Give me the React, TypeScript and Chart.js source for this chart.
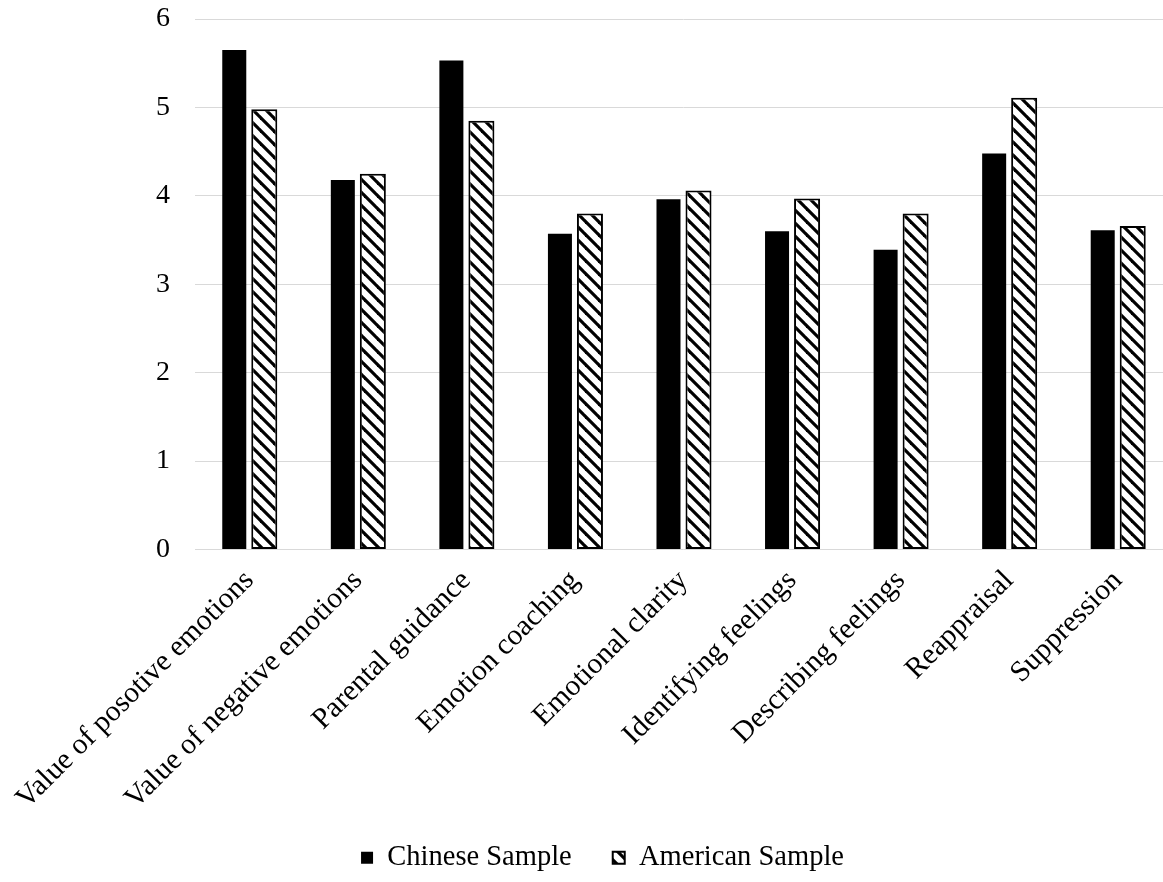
import React, { useEffect, useRef } from 'react';
import { Chart, registerables } from 'chart.js';

Chart.register(...registerables);

const categories = [
  'Value of posotive emotions',
  'Value of negative emotions',
  'Parental guidance',
  'Emotion coaching',
  'Emotional clarity',
  'Identifying feelings',
  'Describing feelings',
  'Reappraisal',
  'Suppression',
];

const chineseSample = [5.65, 4.18, 5.53, 3.57, 3.96, 3.6, 3.39, 4.48, 3.61];
const americanSample = [4.98, 4.25, 4.85, 3.8, 4.06, 3.97, 3.8, 5.11, 3.66];

const yTicks = [0, 1, 2, 3, 4, 5, 6];

const FAMILY = "'Liberation Serif', 'Times New Roman', serif";

function makeHatch(): CanvasPattern | string {
  const s = 13;
  const c = document.createElement('canvas');
  c.width = s;
  c.height = s;
  const g = c.getContext('2d');
  if (!g) return '#888';
  g.fillStyle = '#ffffff';
  g.fillRect(0, 0, s, s);
  g.strokeStyle = '#000000';
  g.lineWidth = 3.2;
  for (const k of [-1, 0, 1]) {
    g.beginPath();
    g.moveTo(-3, -3 + k * s);
    g.lineTo(s + 3, s + 3 + k * s);
    g.stroke();
  }
  return g.createPattern(c, 'repeat') || '#888';
}

export default function App() {
  const ref = useRef<HTMLCanvasElement>(null);

  useEffect(() => {
    const canvas = ref.current;
    if (!canvas) return;
    const hatch = makeHatch();
    const chart = new Chart(canvas, {
      type: 'bar',
      data: {
        labels: categories,
        datasets: [
          {
            label: 'Chinese Sample',
            data: chineseSample,
            backgroundColor: '#000000',
            borderWidth: 0,
            barPercentage: 0.8,
            categoryPercentage: 0.553,
          },
          {
            label: 'American Sample',
            data: americanSample,
            backgroundColor: hatch as any,
            borderColor: '#000000',
            borderWidth: 2,
            borderSkipped: false,
            barPercentage: 0.867,
            categoryPercentage: 0.553,
          },
        ],
      },
      options: {
        responsive: false,
        animation: false,
        layout: { padding: { left: 33, right: 8, top: 19, bottom: 0 } },
        plugins: {
          legend: {
            position: 'bottom',
            labels: {
              boxWidth: 12,
              boxHeight: 12,
              padding: 41,
              color: '#000000',
              font: { size: 28.5, family: FAMILY },
            },
          },
          tooltip: { enabled: false },
        },
        scales: {
          x: {
            grid: { display: false },
            border: { display: false },
            ticks: {
              color: '#000000',
              font: { size: 29.5, family: FAMILY },
              maxRotation: 45,
              minRotation: 45,
              padding: 6,
              autoSkip: false,
            },
            afterFit: (s: any) => {
              s.height = 253;
            },
          },
          y: {
            min: 0,
            max: 6,
            ticks: {
              color: '#000000',
              font: { size: 28, family: FAMILY },
              padding: 0,
              stepSize: 1,
            },
            afterBuildTicks: (s: any) => {
              s.ticks = yTicks.map((v) => ({ value: v }));
            },
            grid: {
              color: '#d9d9d9',
              lineWidth: 1,
              drawTicks: true,
              tickLength: 25,
              tickColor: 'rgba(0,0,0,0)',
            },
            border: { display: false },
            afterFit: (s: any) => {
              s.width = 162;
            },
          },
        },
      },
    });
    return () => chart.destroy();
  }, []);

  return (
    <div
      style={{
        position: 'absolute',
        left: 0,
        top: 0,
        width: 1163,
        height: 882,
        overflow: 'hidden',
        background: '#ffffff',
      }}
    >
      <canvas ref={ref} width={1180} height={882} style={{ display: 'block' }} />
    </div>
  );
}
